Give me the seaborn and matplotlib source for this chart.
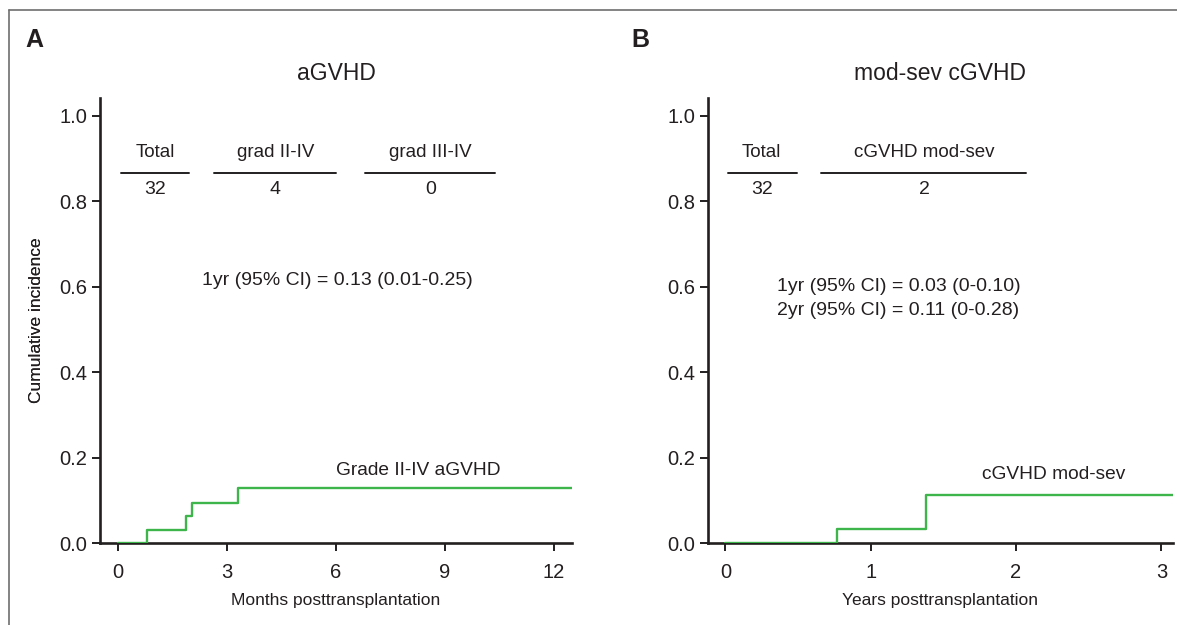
import matplotlib
matplotlib.use("Agg")
import matplotlib.pyplot as plt
import matplotlib.font_manager as fm
import seaborn as sns
import pandas as pd

# ── Data ──────────────────────────────────────────────────────────────────────
agvhd_months = [0.0, 0.80, 1.88, 2.02, 3.30, 12.5]
agvhd_ci     = [0.0, 0.031, 0.0625, 0.094, 0.13, 0.13]

cgvhd_years  = [0.0, 0.77, 1.38, 3.08]
cgvhd_ci     = [0.0, 0.033, 0.112, 0.112]

a_table_heads = ["Total", "grad II-IV", "grad III-IV"]
a_table_vals  = ["32", "4", "0"]
b_table_heads = ["Total", "cGVHD mod-sev"]
b_table_vals  = ["32", "2"]

a_note = ["1yr (95% CI) = 0.13 (0.01-0.25)"]
b_note = ["1yr (95% CI) = 0.03 (0-0.10)", "2yr (95% CI) = 0.11 (0-0.28)"]

# ── Style ─────────────────────────────────────────────────────────────────────
sns.set_theme(style="ticks")
names = {f.name for f in fm.fontManager.ttflist}
REG = "Liberation Sans" if "Liberation Sans" in names else "DejaVu Sans"
plt.rcParams["font.family"] = [REG, "DejaVu Sans"]
GREEN = "#3DB54A"
TXT = "#231F20"
FW, FH = 1177, 625


def panel(ax, x, y, xlim, xticks, xlabel, title, heads, vals,
          head_cols, line_spans, notes, note_x, note_y, lab_pos):
    df = pd.DataFrame({"t": x, "ci": y})
    sns.lineplot(data=df, x="t", y="ci", ax=ax, estimator=None,
                 drawstyle="steps-post", color=GREEN, lw=1.7, zorder=1)
    ax.set_xlim(*xlim)
    ax.set_ylim(0, 1.041)
    ax.set_xticks(xticks)
    yt = [0, 0.2, 0.4, 0.6, 0.8, 1.0]
    ax.set_yticks(yt)
    ax.set_yticklabels([f"{v:.1f}" for v in yt])
    for s in ["top", "right"]:
        ax.spines[s].set_visible(False)
    for s in ["left", "bottom"]:
        ax.spines[s].set_linewidth(1.9)
        ax.spines[s].set_color(TXT)
        ax.spines[s].set_zorder(0)
    ax.tick_params(length=6, width=1.4, color=TXT, labelsize=14.5,
                   labelcolor=TXT)
    ax.tick_params(axis="x", pad=8)
    ax.tick_params(axis="y", pad=3)
    ax.set_xlabel(xlabel, fontsize=12.5, color=TXT)
    ax.set_ylabel("Cumulative incidence", fontsize=12.5, color=TXT)
    # label positions in axes fraction
    pos = ax.get_position()
    w, h = pos.width * FW, pos.height * FH
    ax.xaxis.set_label_coords(0.5, -50 / h)
    ax.yaxis.set_label_coords(-(pos.x0 * FW - 44) / w, 0.5)
    ax.set_title(title, fontsize=16.5, color=TXT, pad=13)

    # small number table
    for hd, v, cx, (x0, x1) in zip(heads, vals, head_cols, line_spans):
        ax.text(cx, 0.893, hd, ha="center", va="bottom",
                fontsize=13.5, color=TXT)
        ax.plot([x0, x1], [0.866, 0.866], color=TXT, lw=1.4)
        ax.text(cx, 0.846, v, ha="center", va="top", fontsize=14, color=TXT)

    for i, n in enumerate(notes):
        ax.text(note_x, note_y - i * 0.055, n, ha="center", va="center",
                fontsize=14, color=TXT)

    ax.text(lab_pos[0], lab_pos[1], lab_pos[2], ha="center", va="center",
            fontsize=13.8, color=TXT)


fig = plt.figure(figsize=(FW / 100, FH / 100), dpi=100)
axA = fig.add_axes([0.085, 0.131, 0.401, 0.712])
axB = fig.add_axes([0.6015, 0.131, 0.3951, 0.712])

panel(axA, agvhd_months, agvhd_ci, (-0.5, 12.5), [0, 3, 6, 9, 12],
      "Months posttransplantation", "aGVHD", a_table_heads, a_table_vals,
      [1.02, 4.33, 8.6], [(0.08, 1.96), (2.64, 6.0), (6.8, 10.39)],
      a_note, 6.03, 0.615, (8.27, 0.17, "Grade II-IV aGVHD"))
panel(axB, cgvhd_years, cgvhd_ci, (-0.12, 3.08), [0, 1, 2, 3],
      "Years posttransplantation", "mod-sev cGVHD", b_table_heads,
      b_table_vals, [0.25, 1.37], [(0.02, 0.49), (0.66, 2.07)],
      b_note, 1.19, 0.60, (2.26, 0.16, "cGVHD mod-sev"))

fig.text(34 / FW, 1 - 40 / FH, "A", fontsize=18, weight="bold",
         ha="center", va="center", color=TXT)
fig.text(640 / FW, 1 - 40 / FH, "B", fontsize=18, weight="bold",
         ha="center", va="center", color=TXT)

# outer frame (left and top edges only visible)
fig.add_artist(plt.Line2D([9 / FW, 9 / FW], [0, 1 - 10 / FH],
                          color="#6E6E6E", lw=1.2))
fig.add_artist(plt.Line2D([9 / FW, 1], [1 - 10 / FH, 1 - 10 / FH],
                          color="#6E6E6E", lw=1.2))

fig.savefig("out.png", dpi=100, facecolor="white")
